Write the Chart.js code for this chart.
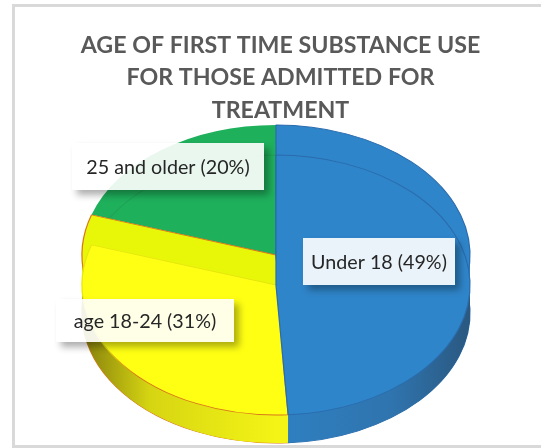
<!DOCTYPE html>
<html>
<head>
<meta charset="utf-8">
<title>Age of first time substance use</title>
<script src="https://cdn.jsdelivr.net/npm/chart.js@4"></script>
<style>
  html, body { margin: 0; padding: 0; background: #fff; overflow: hidden; }
  #frame { position: absolute; left: 12px; top: 4px; width: 540px; height: 438px; border: 3px solid #d9d9d9; }
  #pie { position: absolute; left: 0; top: 0; }
</style>
</head>
<body>
<div id="frame"></div>
<canvas id="pie" width="541" height="448"></canvas>
<script>
const categories = ["Under 18", "age 18-24", "25 and older"];
const shares = [49, 31, 20];
const titleLines = ["AGE OF FIRST TIME SUBSTANCE USE", "FOR THOSE ADMITTED FOR", "TREATMENT"];

// colours, same order as categories
const faceColors = ["#2f85c9", "#ffff14", "#1fb05c"];
const bandColors = ["#2f85c9", "#e8f707", "#1fb05c"];
const edgeColors = ["#2a6cae", "#d9761a", "#1fa356"];

// flattened pie: ellipse radii and the heights of its three levels
const pieX = 276, radiusX = 194, radiusY = 130;
const topLevel = 255, faceLevel = 285, bottomLevel = 313;

// label boxes: left, top, width, height, same order as categories
const labelBoxes = [
  [303, 238, 152, 47],
  [56, 299, 178, 43],
  [72, 143, 192, 47]
];

function atLevel(ctx, arc, level, fn) {
  ctx.save();
  ctx.translate(pieX, level);
  ctx.scale(radiusX / arc.outerRadius, radiusY / arc.outerRadius);
  ctx.translate(-arc.x, -arc.y);
  fn();
  ctx.restore();
}

function paintArc(ctx, arc, level, fill, edge, width) {
  atLevel(ctx, arc, level, () => {
    const saved = arc.options;
    arc.options = Object.assign({}, saved, {
      backgroundColor: fill,
      borderColor: edge || "transparent",
      borderWidth: width || 0
    });
    arc.draw(ctx);
    arc.options = saved;
  });
}

const flattenedPie = {
  id: "flattenedPie",
  beforeDatasetsDraw(chart) {
    const ctx = chart.ctx;
    const [blue, yellow, green] = chart.getDatasetMeta(0).data;
    const r = blue.outerRadius;

    // side wall, shaded towards the outer ends
    const yellowWall = ctx.createLinearGradient(blue.x - r, 0, blue.x, 0);
    yellowWall.addColorStop(0, "#857f0c");
    yellowWall.addColorStop(0.35, "#d6d512");
    yellowWall.addColorStop(1, "#f4f416");
    const blueWall = ctx.createLinearGradient(blue.x, 0, blue.x + r, 0);
    blueWall.addColorStop(0, "#2f80c2");
    blueWall.addColorStop(0.6, "#2f74ae");
    blueWall.addColorStop(1, "#2a5880");
    paintArc(ctx, yellow, bottomLevel, yellowWall, edgeColors[1], 1);
    paintArc(ctx, blue, bottomLevel, blueWall, edgeColors[0], 1);
    for (let y = bottomLevel; y > faceLevel; y--) {
      paintArc(ctx, yellow, y, yellowWall);
      paintArc(ctx, blue, y, blueWall);
    }

    // raised part between the face and the top rim
    paintArc(ctx, green, topLevel, faceColors[2]);
    paintArc(ctx, green, faceLevel, "transparent", edgeColors[2], 1);
    for (let y = faceLevel; y > topLevel; y--) {
      paintArc(ctx, yellow, y, bandColors[1]);
      paintArc(ctx, blue, y, bandColors[0]);
    }
    paintArc(ctx, yellow, topLevel, bandColors[1], edgeColors[1], 1);
    paintArc(ctx, blue, topLevel, bandColors[0], edgeColors[0], 1);

    // the yellow face only gets its orange edge along the lower half
    const faceEdge = ctx.createLinearGradient(0, yellow.y, 0, yellow.y + r);
    faceEdge.addColorStop(0, "#e6e60e");
    faceEdge.addColorStop(0.45, "#e6e60e");
    faceEdge.addColorStop(0.7, edgeColors[1]);
    paintArc(ctx, yellow, faceLevel, faceColors[1], faceEdge, 1);
    paintArc(ctx, blue, faceLevel, faceColors[0], edgeColors[0], 1);
    return false;
  },
  afterDraw(chart) {
    const ctx = chart.ctx;
    categories.forEach((name, i) => {
      const [x, y, w, h] = labelBoxes[i];
      // shadow only outside the box, so the box itself stays see-through
      ctx.save();
      ctx.beginPath();
      ctx.rect(0, 0, chart.width, chart.height);
      ctx.rect(x, y, w, h);
      ctx.clip("evenodd");
      ctx.shadowColor = "rgba(0,0,0,0.32)";
      ctx.shadowBlur = 7;
      ctx.shadowOffsetX = 5;
      ctx.shadowOffsetY = 5;
      ctx.fillStyle = "#fff";
      ctx.fillRect(x, y, w, h);
      ctx.restore();

      ctx.fillStyle = "rgba(255,255,255,0.9)";
      ctx.fillRect(x, y, w, h);
      ctx.fillStyle = "#262626";
      ctx.font = "19.7px Lato";
      ctx.textAlign = "center";
      ctx.textBaseline = "middle";
      ctx.fillText(name + " (" + shares[i] + "%)", x + w / 2, y + h / 2 + 1);
    });
  }
};

new Chart(document.getElementById("pie"), {
  type: "pie",
  data: {
    labels: categories,
    datasets: [{ data: shares, backgroundColor: faceColors, borderWidth: 0 }]
  },
  options: {
    responsive: false,
    animation: false,
    layout: { padding: { left: 20 } },
    plugins: {
      legend: { display: false },
      tooltip: { enabled: false },
      title: {
        display: true,
        text: titleLines,
        color: "#595959",
        font: { family: "Lato", size: 23.2, weight: "bold", lineHeight: 1.4 },
        padding: { top: 29, bottom: 4 }
      }
    }
  },
  plugins: [flattenedPie]
});
</script>
</body>
</html>
